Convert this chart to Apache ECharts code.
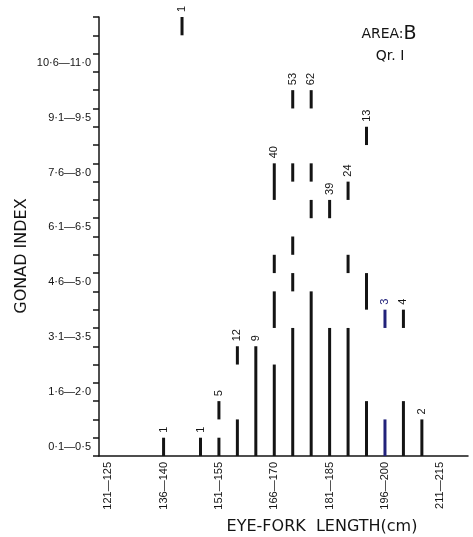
<!DOCTYPE html>
<html><head><meta charset="utf-8">
<script src="https://cdn.jsdelivr.net/npm/echarts@6/dist/echarts.min.js"></script>
<style>html,body{margin:0;padding:0;background:#fff}#c{width:473px;height:537px}</style>
</head><body><div id="c"></div>
<script>
// Length classes (x categories, 5 cm bins)
const lengthClasses = ['121—125','126—130','131—135','136—140','141—145','146—150','151—155','156—160','161—165','166—170','171—175','176—180','181—185','186—190','191—195','196—200','201—205','206—210','211—215','216—220'];
// Gonad index bands (y categories, 0.5 steps) – every third one labelled
const gonadBands = ['0·1—0·5','0·6—1·0','1·1—1·5','1·6—2·0','2·1—2·5','2·6—3·0','3·1—3·5','3·6—4·0','4·1—4·5','4·6—5·0','5·1—5·5','5·6—6·0','6·1—6·5','6·6—7·0','7·1—7·5','7·6—8·0','8·1—8·5','8·6—9·0','9·1—9·5','9·6—10·0','10·1—10·5','10·6—11·0','11·1—11·5','11·6—12·0'];

// Range segments: class, low gonad index, high gonad index
const segClass = ['136—140','141—145','146—150','151—155','151—155','156—160','156—160','161—165',
  '166—170','166—170','166—170','166—170',
  '171—175','171—175','171—175','171—175','171—175',
  '176—180','176—180','176—180','176—180',
  '181—185','181—185',
  '186—190','186—190','186—190',
  '191—195','191—195','191—195',
  '196—200','196—200',
  '201—205','201—205',
  '206—210'];
const segLow  = [0, 11.5, 0, 0, 1.0, 0, 2.5, 0,
  0, 3.5, 5.0, 7.0,
  0, 4.5, 5.5, 7.5, 9.5,
  0, 6.5, 7.5, 9.5,
  0, 6.5,
  0, 5.0, 7.0,
  0, 4.0, 8.5,
  0, 3.5,
  0, 3.5,
  0];
const segHigh = [0.5, 12.0, 0.5, 0.5, 1.5, 1.0, 3.0, 3.0,
  2.5, 4.5, 5.5, 8.0,
  3.5, 5.0, 6.0, 8.0, 10.0,
  4.5, 7.0, 8.0, 10.0,
  3.5, 7.0,
  3.5, 5.5, 7.5,
  1.5, 5.0, 9.0,
  1.0, 4.0,
  1.5, 4.0,
  1.0];

// Sample sizes per class
const countClass = ['136—140','141—145','146—150','151—155','156—160','161—165','166—170','171—175','176—180','181—185','186—190','191—195','196—200','201—205','206—210'];
const countN = [1, 1, 1, 5, 12, 9, 40, 53, 62, 39, 24, 13, 3, 4, 2];

const highlightClass = '196—200';

const BLACK = '#141414';
const NAVY = '#22227a';

const segData = segClass.map((c, i) => [lengthClasses.indexOf(c), segLow[i], segHigh[i], c === highlightClass ? 1 : 0]);
const countData = countClass.map((c, i) => {
  let top = 0;
  segClass.forEach((s, j) => { if (s === c) top = Math.max(top, segHigh[j]); });
  return [lengthClasses.indexOf(c), top, countN[i], c === highlightClass ? 1 : 0];
});

const chart = echarts.init(document.getElementById('c'), null, {renderer: 'canvas'});
chart.setOption({
  backgroundColor: '#fff',
  animation: false,
  grid: {left: 99, right: 5, top: 17, bottom: 81},
  xAxis: {
    type: 'category', data: lengthClasses, boundaryGap: true,
    axisLine: {lineStyle: {color: BLACK, width: 1.5}},
    axisTick: {interval: 0, length: 5, lineStyle: {color: BLACK, width: 1.5}},
    axisLabel: {interval: 2, rotate: 90, margin: 6, color: BLACK, fontSize: 11, fontFamily: 'Liberation Sans'},
    splitLine: {show: false}
  },
  yAxis: [
    {
      type: 'value', min: 0, max: 12, interval: 0.5, position: 'left',
      axisLine: {show: true, lineStyle: {color: BLACK, width: 1.5}},
      axisTick: {show: true, length: 6, lineStyle: {color: BLACK, width: 1.5}},
      axisLabel: {show: false}, splitLine: {show: false}
    },
    {
      type: 'category', data: gonadBands, boundaryGap: true, position: 'left',
      axisLine: {show: false}, axisTick: {show: false}, splitLine: {show: false},
      axisLabel: {interval: 2, margin: 8, color: BLACK, fontSize: 11, fontFamily: 'Liberation Sans'}
    }
  ],
  graphic: [
    {type: 'text', x: 22, y: 256, rotation: Math.PI / 2,
     style: {text: 'GONAD INDEX', fill: BLACK, font: '16px "DejaVu Sans"', align: 'center', verticalAlign: 'middle'}},
    {type: 'text', x: 322, y: 527,
     style: {text: 'EYE-FORK  LENGTH(cm)', fill: BLACK, font: '16px "DejaVu Sans"', align: 'center', verticalAlign: 'middle'}},
    {type: 'text', x: 389, y: 34,
     style: {text: '{a|AREA:}{b|B}', align: 'center', verticalAlign: 'middle',
       rich: {a: {fontSize: 14, fontFamily: 'DejaVu Sans', fill: BLACK, color: BLACK}, b: {fontSize: 19, fontFamily: 'DejaVu Sans', color: BLACK, fill: BLACK}}}},
    {type: 'text', x: 390, y: 56,
     style: {text: 'Qr. I', fill: BLACK, font: '14px "DejaVu Sans"', align: 'center', verticalAlign: 'middle'}}
  ],
  series: [
    {
      type: 'custom', xAxisIndex: 0, yAxisIndex: 0, data: segData,
      renderItem: function (params, api) {
        const x = api.value(0);
        const p0 = api.coord([x, api.value(1)]);
        const p1 = api.coord([x, api.value(2)]);
        const w = 3;
        return {type: 'rect', shape: {x: p0[0] - w / 2, y: p1[1], width: w, height: p0[1] - p1[1]},
          style: {fill: api.value(3) ? NAVY : BLACK}};
      }
    },
    {
      type: 'custom', xAxisIndex: 0, yAxisIndex: 0, data: countData,
      renderItem: function (params, api) {
        const p = api.coord([api.value(0), api.value(1)]);
        return {type: 'text', x: p[0], y: p[1] - 5, rotation: Math.PI / 2,
          style: {text: String(api.value(2)), fill: api.value(3) ? NAVY : BLACK,
            font: '11px "Liberation Sans"', align: 'left', verticalAlign: 'middle'}};
      }
    }
  ]
});
</script></body></html>
